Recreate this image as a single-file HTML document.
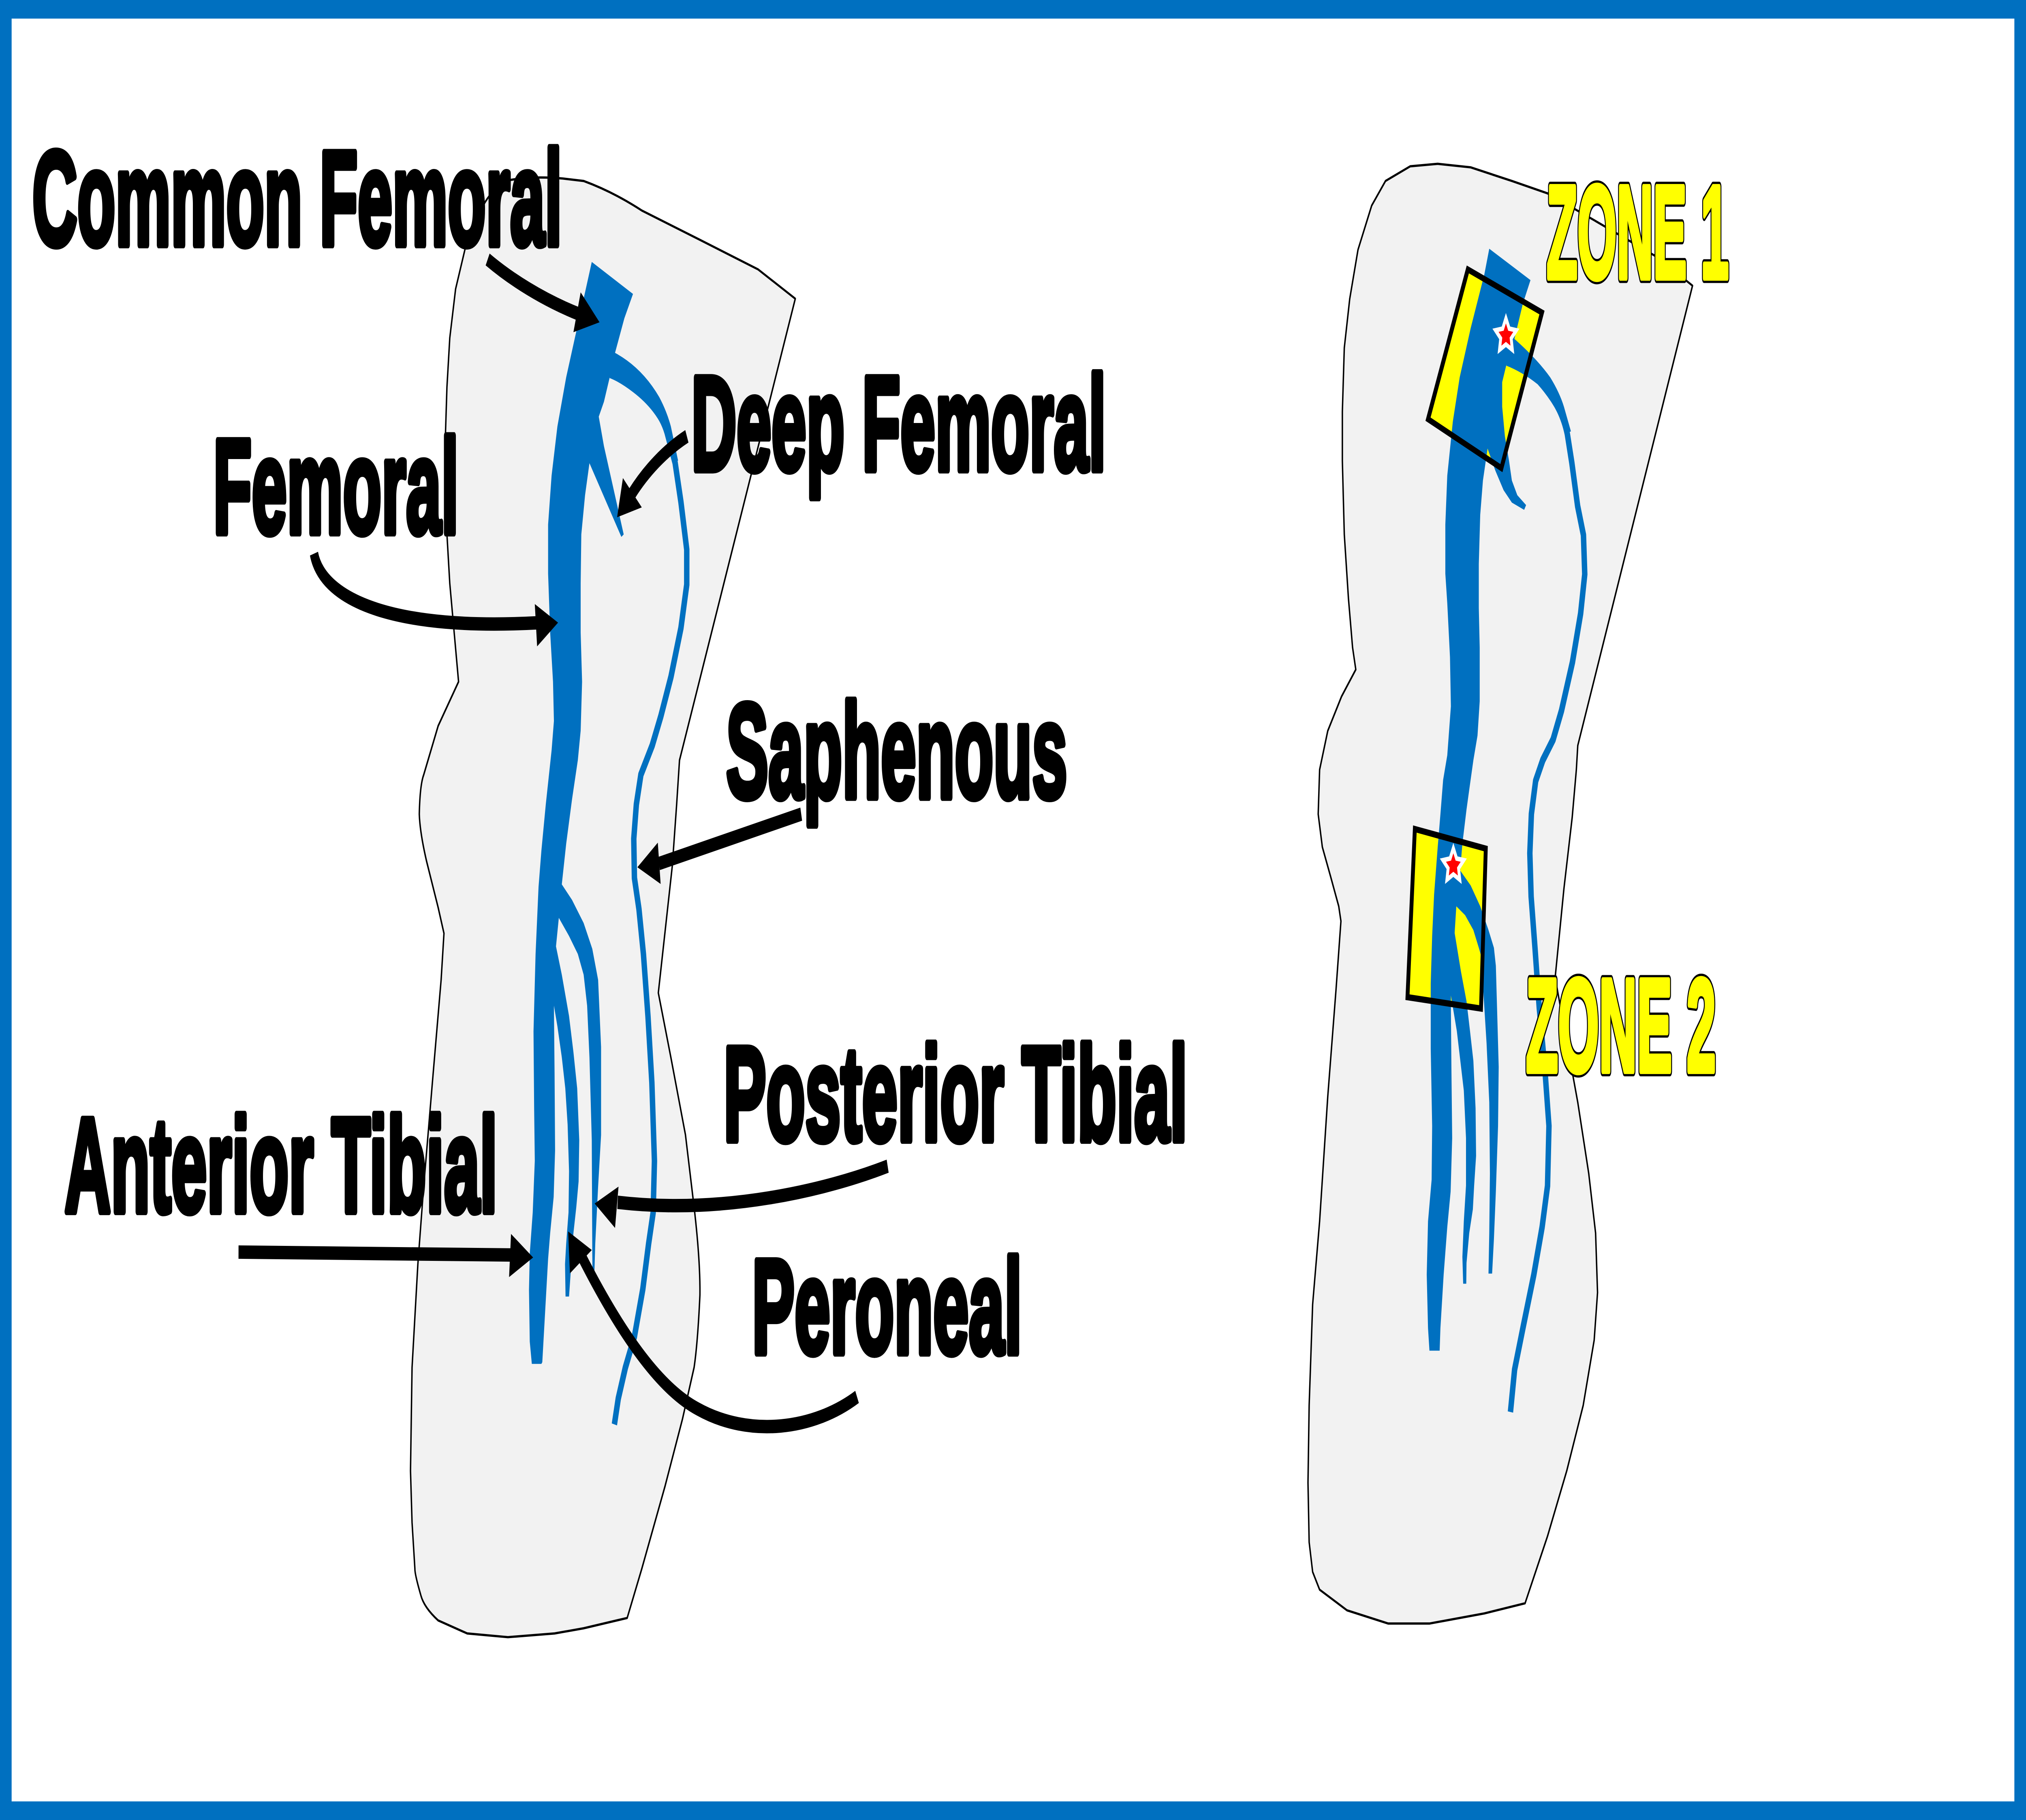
<!DOCTYPE html>
<html>
<head>
<meta charset="utf-8">
<style>
html,body{margin:0;padding:0;background:#fff;width:100%;height:100%;overflow:hidden;}
svg{display:block;position:absolute;left:0;top:0;width:100vw;height:100vh;}
.lbl{font-family:"Liberation Sans",Arial,sans-serif;font-weight:bold;font-size:65px;fill:#000;stroke:#000;stroke-width:3.4;stroke-linejoin:round;}
.zone{font-family:"Liberation Sans",Arial,sans-serif;font-weight:bold;font-size:64px;}
</style>
</head>
<body>
<svg viewBox="0 0 1568 881" preserveAspectRatio="none" xmlns="http://www.w3.org/2000/svg">
<rect x="0" y="0" width="1568" height="881" fill="#fff"/>

<!-- LEFT LEG -->
<path d="M372.9,100.7 Q380,92 390.9,87.6 Q410,85 435.5,86.4 L451.7,87.6 Q475,93 496.7,101.9 L541.7,116.1 L586.7,130.4 L615.5,144.6 L525.9,368 L523.7,389.3 L520.3,419.3 L509.5,480.6 L519.2,511.8 L530.5,549.3 L537.2,584.4 Q542,610 541.7,626.9 Q540,650 537.2,661.9 L528.2,686.9 L514.7,719.4 L496.7,759.4 L485.4,783.2 L451.7,788.2 L429.2,790.7 L393.1,792.5 L361.6,790.7 L339.1,784.4 Q328,778 325.6,772 Q321,762 321.1,759.4 L318.9,737 L317.7,712 L318.9,662 L323.4,611.9 L327.9,574.4 L334.6,524.3 L341.4,474.3 L343.6,451.8 L339.1,439.3 L330.1,416.8 Q325,403 324.5,394.1 Q325,380 327.9,375.1 L339.1,351.4 L354.9,330 L351.5,306.2 L348.1,282.4 L345.9,258.7 L344.7,211.2 L345.9,187.4 L348.1,163.6 L352.6,139.9 L361.6,116.1 Z" fill="#F2F2F2" stroke="#000" stroke-width="1.1" stroke-linejoin="round"/>

<!-- RIGHT LEG -->
<path d="M1112.7,79.3 L1138.2,81.0 L1170.1,87.6 L1197.7,93.6 L1233.8,106.6 L1282.7,124.5 L1309.9,138.3 L1221.1,360.9 L1220.0,372.6 L1216.8,395.6 L1210.4,430.1 L1203.6,473.2 L1209.4,493.4 L1221.1,533.6 L1229.6,568.1 L1234.9,596.9 L1236.4,625.7 L1233.8,648.7 L1225.3,680.3 L1212.6,711.9 L1197.7,743.6 L1180.3,776.1 L1148.8,781.0 L1106.3,785.9 L1074.4,785.9 L1042.5,779.5 L1021.3,769.5 L1015.9,760.9 L1013.2,746.5 L1012.3,717.7 L1013.2,680.3 L1015.9,631.4 L1021.3,591.2 L1027.6,530.8 L1034.0,479.0 L1037.8,445.9 L1036.1,438.7 L1029.8,424.3 L1023.4,410.0 L1020.2,394.1 L1021.3,372.6 L1027.6,353.8 L1038.3,337.1 L1049.3,324.1 L1046.8,313.4 L1043.6,289.6 L1040.4,258.7 L1038.9,223.1 L1038.9,199.3 L1040.4,168.4 L1044.6,144.7 L1051.0,120.9 L1061.6,99.5 L1072.3,87.6 L1091.4,80.5 Z" fill="#F2F2F2" stroke="#000" stroke-width="1.1" stroke-linejoin="round"/>

<!-- ZONE box fills -->
<polygon points="1136.0,130.4 1193.4,151.3 1162.0,226.6 1105.2,202.9" fill="#FFFF00"/>
<polygon points="1095.0,401.3 1149.9,410.8 1146.2,488.2 1089.3,482.7" fill="#FFFF00"/>

<!-- LEFT VEINS -->
<g fill="#0070C0">
<path d="M458.0,126.8 L451.7,144.6 L444.9,163.6 L438.2,182.6 L431.4,206.4 L426.9,230.2 L424.2,253.9 L424.2,277.7 L425.8,306.2 L428.0,330.0 L428.7,349.0 L426.9,363.2 L422.4,389.4 L419.0,411.8 L416.8,429.3 L414.5,461.8 L412.9,499.3 L413.4,536.9 L413.9,561.9 L412.3,586.9 L410.0,606.9 L409.4,624.4 L410.0,649.4 L411.6,660.2 L419.0,660.2 L419.7,659.4 L422.4,629.4 L424.2,609.4 L425.8,596.9 L428.5,579.4 L429.6,556.9 L429.2,519.3 L428.7,486.8 L431.4,496.8 L434.8,511.8 L437.5,526.8 L439.3,544.4 L440.4,566.9 L440.0,586.9 L438.2,601.9 L437.3,611.9 L437.7,627.6 L440.4,627.6 L443.8,596.9 L446.0,584.4 L447.8,571.9 L448.3,551.9 L446.7,526.8 L443.8,509.3 L440.4,491.8 L434.8,471.8 L430.3,458.1 L432.5,444.3 L440.4,453.1 L447.2,461.8 L451.7,471.8 L454.4,486.8 L456.2,511.8 L458.0,551.9 L458.4,606.9 L458.6,617 L460.0,616.9 L460.7,601.9 L462.9,574.4 L465.2,549.4 L465.2,506.8 L462.9,474.3 L458.4,459.3 L451.7,446.8 L442.7,435.6 L434.8,428.1 L438.2,408.4 L442.7,387.0 L447.2,368.0 L449.4,353.7 L450.5,330.0 L449.4,306.2 L449.4,282.4 L449.9,258.7 L452.8,239.7 L456.2,224.2 L480.9,259.9 L482.7,258.7 L474.2,234.9 L467.4,215.9 L463.4,201.7 L467.4,194.5 L471.9,182.6 L476.0,170.8 L483.2,154.1 L489.9,142.3 Z"/>
<path d="M470,170 L476,170.8 Q497,178 510.2,192.2 Q516,199 519.2,206.4 L524.8,223 L520.5,224 Q517,212 512.5,206.4 Q505,197 489.9,189.8 Q480,185 471.9,183 Z"/>
</g>
<path d="M505,196 Q514,203 517,211 L522.5,224 L527,243 L531.5,266 L531.5,283 L527,304 L519.3,327.6 L511.5,346.6 L504.8,360.8 L496,375 L492.5,389.4 L490.5,406 L491,425 L494.5,440 L498,462 L501.5,492 L504.5,524 L506.5,562 L505.5,587 L502,602 L497.5,624 L491,647 L484,662 L478.5,677 L475.5,689.5" fill="none" stroke="#0070C0" stroke-width="4.2" stroke-linejoin="round"/>

<!-- RIGHT VEINS -->
<g fill="#0070C0">
<path d="M1152.6,120.4 L1148.8,132.8 L1138.2,158.9 L1129.7,182.7 L1124.4,204.1 L1120.1,230.2 L1118.6,253.9 L1118.6,277.7 L1120.1,292.0 L1122.2,318.1 L1122.9,341.9 L1120.1,365.6 L1116.9,377.5 L1114.8,394.1 L1112.7,410.0 L1109.9,433.0 L1108.4,453.1 L1107.3,476.1 L1107.3,507.7 L1108.4,545.1 L1108.0,571.0 L1105.2,591.2 L1104.2,617.0 L1105.2,642.9 L1106.3,653.8 L1114.2,653.8 L1114.8,642.9 L1117.3,617.0 L1120.1,594.0 L1122.7,576.8 L1123.9,550.9 L1123.3,516.4 L1122.9,487.6 L1122.9,481.9 L1127.5,499.1 L1132.9,527.9 L1134.6,550.9 L1134.6,573.9 L1132.9,591.2 L1131.8,608.4 L1132.4,621.4 L1134.8,621.4 L1135.0,611.3 L1137.1,596.9 L1139.9,585.4 L1140.9,573.9 L1142.4,559.5 L1142.0,536.5 L1140.3,513.5 L1137.7,499.1 L1135.0,484.7 L1130.7,470.3 L1125.8,451.6 L1127.1,438.7 L1133.9,443.0 L1140.3,450.2 L1144.5,458.8 L1147.1,464.6 L1148.2,481.9 L1150.5,504.9 L1152.6,533.6 L1153.1,568.1 L1152.6,596.9 L1152.0,616.5 L1154.8,616.5 L1156.2,599.8 L1157.7,576.8 L1159.4,545.1 L1159.9,516.4 L1159.0,496.2 L1157.7,467.5 L1156.2,458.8 L1152.0,450.2 L1145.6,438.7 L1138.2,428.6 L1130.1,421.4 L1131.8,408.4 L1135.0,391.8 L1137.1,382.3 L1140.3,368.0 L1143.5,356.1 L1145.2,339.5 L1145.2,313.4 L1144.5,294.3 L1144.5,273.0 L1145.6,249.2 L1147.7,232.6 L1151.3,217.1 L1157.3,227.8 L1163.7,237.3 L1170.1,243.3 L1179.6,246.8 L1181.1,244.5 L1174.3,239.7 L1170.1,232.6 L1167.9,223.1 L1164.7,211.2 L1162.6,196.9 L1162.6,185.0 L1165.8,176.7 L1172.2,163.7 L1178.6,147.0 L1184.5,135.6 Z"/>
<path d="M1168,163 L1172,164 Q1190,174 1199.8,182.7 Q1207,190 1210.4,196.9 L1215.8,208.8 L1211.5,210 Q1209,204 1207.2,201.7 Q1200,193 1190,186 Q1178,180 1165.8,177 Z"/>
</g>
<path d="M1203,194 Q1210,201 1213,210 L1216.5,224 L1221,245 L1225.5,259 L1226.5,278 L1223.3,297 L1217,320.5 L1208.5,344 L1202,358 L1194,368 L1188.5,378 L1185.2,394 L1184,413 L1185,434 L1188,459 L1191.3,488 L1195.5,516.4 L1198.8,545 L1197.7,574 L1193.5,594 L1187.1,617 L1178.6,643 L1172.2,663 L1169,683.5" fill="none" stroke="#0070C0" stroke-width="4.2" stroke-linejoin="round"/>

<!-- ZONE box outlines -->
<polygon points="1136.0,130.4 1193.4,151.3 1162.0,226.6 1105.2,202.9" fill="none" stroke="#000" stroke-width="3"/>
<polygon points="1095.0,401.3 1149.9,410.8 1146.2,488.2 1089.3,482.7" fill="none" stroke="#000" stroke-width="3"/>

<!-- Stars -->
<polygon transform="translate(1165.5,162.5) scale(1.06)" points="0,-8 2.351,-3.236 7.608,-2.472 3.804,1.236 4.702,6.472 0,4 -4.702,6.472 -3.804,1.236 -7.608,-2.472 -2.351,-3.236" fill="#FF0000" stroke="#fff" stroke-width="2.1"/>
<polygon transform="translate(1124.8,419) scale(1.06)" points="0,-8 2.351,-3.236 7.608,-2.472 3.804,1.236 4.702,6.472 0,4 -4.702,6.472 -3.804,1.236 -7.608,-2.472 -2.351,-3.236" fill="#FF0000" stroke="#fff" stroke-width="2.1"/>

<!-- ARROWS -->
<g fill="none" stroke="#000" stroke-width="6.5">
<path d="M377.4,125.6 C395,135 420,145 448,152"/>
<path d="M531.6,211.2 C515,218 500,228 489,239"/>
<path d="M243,268 C250,292 310,305 415,301.5"/>
<path d="M620.1,394.1 L510,418"/>
<path d="M687,564.5 C640,576 560,588 478,582"/>
<path d="M663.3,676.2 C630,692 580,696 540,682 C510,672 480,645 450,608"/>
<path d="M184.6,606.1 L396,607.5"/>
</g>
<g fill="#000">
<polygon points="449.4,141.5 464.0,156.0 443.8,160.8"/>
<polygon points="482.1,231.4 496.7,245.6 477.6,250.4"/>
<polygon points="413.9,292.4 431.9,301.4 415.7,312.9"/>
<polygon points="509.1,407.9 493.3,419.8 511.3,427.9"/>
<polygon points="478.7,574.4 460.2,582.6 476.0,594.4"/>
<polygon points="439.7,596.1 458.0,605.1 441.1,616.4"/>
<polygon points="395.5,597.3 412.6,608.7 394.0,618.2"/>
</g>

<!-- LABELS -->
<text class="lbl" x="25" y="118.5" textLength="410" lengthAdjust="spacingAndGlyphs">Common Femoral</text>
<text class="lbl" x="165" y="258" textLength="190" lengthAdjust="spacingAndGlyphs">Femoral</text>
<text class="lbl" x="535" y="227.5" textLength="321" lengthAdjust="spacingAndGlyphs">Deep Femoral</text>
<text class="lbl" x="562" y="386" textLength="264" lengthAdjust="spacingAndGlyphs">Saphenous</text>
<text class="lbl" x="560" y="552" textLength="359" lengthAdjust="spacingAndGlyphs">Posterior Tibial</text>
<text class="lbl" x="582" y="655" textLength="209" lengthAdjust="spacingAndGlyphs">Peroneal</text>
<text class="lbl" x="50" y="586.5" textLength="335" lengthAdjust="spacingAndGlyphs">Anterior Tibial</text>

<!-- ZONE labels -->
<text class="zone" x="1197" y="134.5" textLength="141" lengthAdjust="spacingAndGlyphs" fill="#FFFF00" stroke="#000" stroke-width="5" stroke-linejoin="round">ZONE 1</text>
<text class="zone" x="1197" y="134.5" textLength="141" lengthAdjust="spacingAndGlyphs" fill="#FFFF00" stroke="#FFFF00" stroke-width="2.8" stroke-linejoin="round">ZONE 1</text>
<text class="zone" x="1181" y="518.5" textLength="147" lengthAdjust="spacingAndGlyphs" fill="#FFFF00" stroke="#000" stroke-width="5" stroke-linejoin="round">ZONE 2</text>
<text class="zone" x="1181" y="518.5" textLength="147" lengthAdjust="spacingAndGlyphs" fill="#FFFF00" stroke="#FFFF00" stroke-width="2.8" stroke-linejoin="round">ZONE 2</text>

<!-- BORDER -->
<rect x="4.5" y="4.5" width="1559" height="872" fill="none" stroke="#0070C0" stroke-width="9"/>
</svg>
</body>
</html>
